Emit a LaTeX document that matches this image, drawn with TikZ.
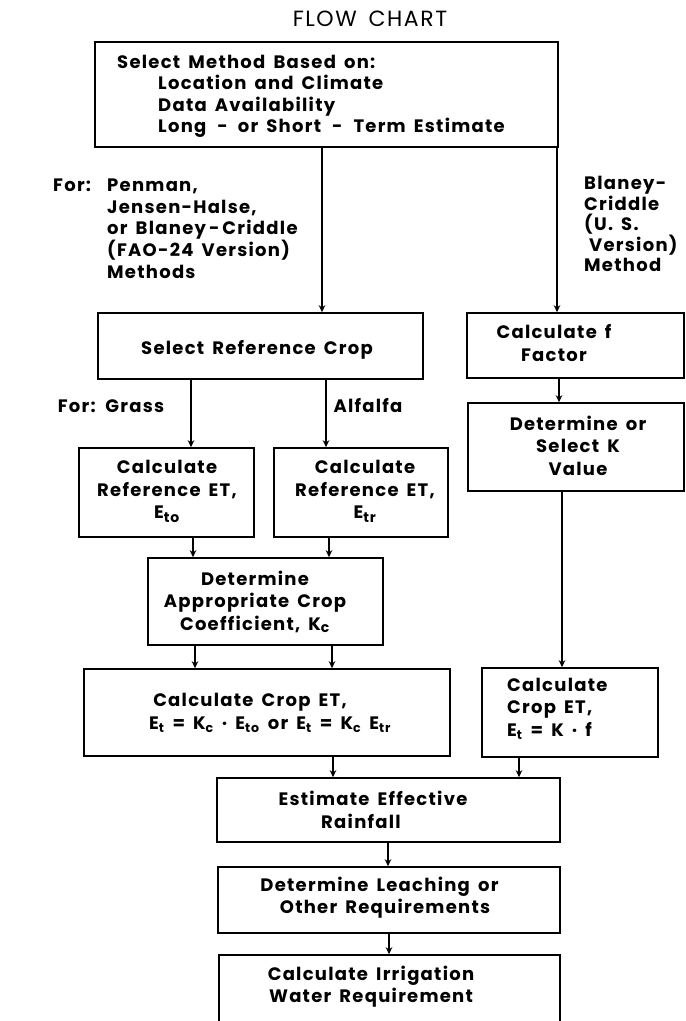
\documentclass[tikz,border=0pt]{standalone}
\usepackage{fontspec}
\setmainfont{Poppins}[LetterSpace=7,WordSpace=1.6]
\usetikzlibrary{arrows.meta}
\begin{document}
\begin{tikzpicture}[x=1pt,y=-1pt,
  box/.style={draw, line width=1.6pt, inner sep=0pt},
  txt/.style={inner sep=0pt, align=center, font=\fontsize{18}{22.5}\selectfont\bfseries},
  arr/.style={line width=1.5pt, -{Stealth[length=7pt,width=6.5pt]}},
  ln/.style={line width=1.5pt}]
\clip (0,0) rectangle (686,1021);
% title
\node[inner sep=0pt, font=\fontsize{22}{26}\selectfont] (title) at (370,19) {FLOW CHART};
% boxes
\node[box, minimum width=463pt, minimum height=105pt] (top) at (326.5,94.5) {};
\node[box, minimum width=325pt, minimum height=66pt] (sel) at (260.5,346) {};
\node[box, minimum width=217pt, minimum height=65pt] (fbox) at (575.5,345.5) {};
\node[box, minimum width=216pt, minimum height=88pt] (kbox) at (576,447) {};
\node[box, minimum width=175pt, minimum height=89pt] (eto) at (166.5,492.5) {};
\node[box, minimum width=174pt, minimum height=89pt] (etr) at (361,492.5) {};
\node[box, minimum width=235pt, minimum height=87pt] (kc) at (265.5,601.5) {};
\node[box, minimum width=366pt, minimum height=87pt] (cropL) at (267,712.5) {};
\node[box, minimum width=176pt, minimum height=89pt] (cropR) at (570,712.5) {};
\node[box, minimum width=343pt, minimum height=64pt] (rain) at (388.5,810) {};
\node[box, minimum width=342pt, minimum height=66pt] (leach) at (389,900) {};
\node[box, minimum width=341pt, minimum height=75pt] (irr) at (389.5,992.5) {};
% texts
\node[txt, align=left, anchor=west, font=\fontsize{18}{21.5}\selectfont\bfseries] (toptxt) at (117,96.5)
  {Select Method Based on:\\\hspace*{41pt}Location and Climate\\\hspace*{41pt}Data Availability\\\hspace*{41pt}Long\hspace{11pt}-\hspace{10pt}or Short\hspace{11pt}-\hspace{11pt}Term Estimate};
\node[txt, align=left, anchor=west, font=\fontsize{18}{21.75}\selectfont\bfseries] (lefttxt) at (53,228.5)
  {\makebox[54pt][l]{For:}Penman,\\\hspace*{54pt}Jensen-Halse,\\\hspace*{54pt}or Blaney\,-\,Criddle\\\hspace*{54pt}(FAO-24 Version)\\\hspace*{54pt}Methods};
\node[txt, align=left, anchor=west, font=\fontsize{18}{20.5}\selectfont\bfseries] (righttxt) at (584,224)
  {Blaney-\\Criddle\\(U. S.\\\hspace*{5pt}Version)\\Method};
\node[txt] (seltxt) at (257,350) {Select Reference Crop};
\node[txt] (ftxt) at (554,343) {Calculate f\\Factor};
\node[txt] (ktxt) at (578,445.5) {Determine or\\Select K\\Value};
\node[txt] (grass) at (111,406) {For: Grass};
\node[txt] (alfalfa) at (368,406) {Alfalfa};
\node[txt] (etotxt) at (167,491.5) {Calculate\\Reference ET,\\E\textsubscript{\fontsize{14}{14}\selectfont to}};
\node[txt] (etrtxt) at (365,491.5) {Calculate\\Reference ET,\\E\textsubscript{\fontsize{14}{14}\selectfont tr}};
\node[txt] (kctxt) at (255,602) {Determine\\Appropriate Crop\\Coefficient, K\textsubscript{\fontsize{14}{14}\selectfont c}};
\node[txt] (cropLtxt) at (270,713) {Calculate Crop ET,\hspace*{40pt}\\E\textsubscript{t} = K\textsubscript{c} · E\textsubscript{to} or E\textsubscript{t} = K\textsubscript{c} E\textsubscript{tr}};
\node[txt, align=left, anchor=west] (cropRtxt) at (507,708.5) {Calculate\\Crop ET,\\E\textsubscript{t} = K · f};
\node[txt] (raintxt) at (373,810) {Estimate Effective\\Rainfall\hspace*{24pt}};
\node[txt] (leachtxt) at (385,897.5) {Determine Leaching or\hspace*{11pt}\\Other Requirements};
\node[txt] (irrtxt) at (371,986.5) {Calculate Irrigation\\Water Requirement};
% connector x positions
\coordinate (x1) at (322,0);
\coordinate (x2) at (557,0);
\coordinate (x3) at (191,0);
\coordinate (x4) at (326,0);
\coordinate (x5) at (193,0);
\coordinate (x6) at (329,0);
\coordinate (x7) at (195,0);
\coordinate (x8) at (332,0);
\coordinate (x9) at (559,0);
\coordinate (x10) at (562,0);
\coordinate (x11) at (333,0);
\coordinate (x12) at (519,0);
\coordinate (x13) at (388,0);
\coordinate (x14) at (389,0);
% connectors
\draw[arr] (top.south -| x1) -- (sel.north -| x1);
\draw[arr] (top.south -| x2) -- (fbox.north -| x2);
\draw[arr] (sel.south -| x3) -- (eto.north -| x3);
\draw[arr] (sel.south -| x4) -- (etr.north -| x4);
\draw[arr] (eto.south -| x5) -- (kc.north -| x5);
\draw[arr] (etr.south -| x6) -- (kc.north -| x6);
\draw[arr] (kc.south -| x7) -- (cropL.north -| x7);
\draw[arr] (kc.south -| x8) -- (cropL.north -| x8);
\draw[arr] (fbox.south -| x9) -- (kbox.north -| x9);
\draw[arr] (kbox.south -| x10) -- (cropR.north -| x10);
\draw[arr] (cropL.south -| x11) -- (rain.north -| x11);
\draw[arr] (cropR.south -| x12) -- (rain.north -| x12);
\draw[arr] (rain.south -| x13) -- (leach.north -| x13);
\draw[arr] (leach.south -| x14) -- (irr.north -| x14);
\end{tikzpicture}
\end{document}
